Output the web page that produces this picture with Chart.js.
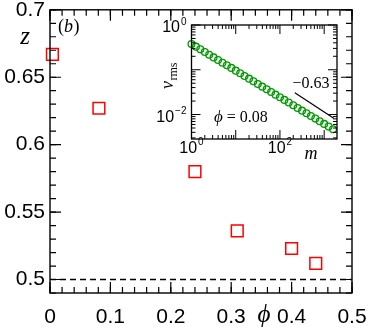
<!DOCTYPE html>
<html><head><meta charset="utf-8">
<script src="https://cdn.jsdelivr.net/npm/chart.js@4.4.1/dist/chart.umd.min.js"></script>
<style>
html,body{margin:0;padding:0;background:#fff;}
#wrap{position:relative;width:371px;height:330px;overflow:hidden;}
canvas{position:absolute;left:0;top:0;}
</style>
</head><body>
<div id="wrap"><canvas id="main" width="371" height="330"></canvas><canvas id="inset" width="371" height="330"></canvas></div>
<script>
// ---- main panel data ----
const phiValues = [0.004, 0.081, 0.240, 0.310, 0.400, 0.440];
const zValues   = [0.667, 0.627, 0.580, 0.536, 0.523, 0.512];
const zReferenceLevel = 0.5;
const xTickValues = [0, 0.1, 0.2, 0.3, 0.4, 0.5];
const xTickLabels = ['0', '0.1', '0.2', '0.3', '0.4', '0.5'];
const yTickValues = [0.5, 0.55, 0.6, 0.65, 0.7];
const yTickLabels = ['0.5', '0.55', '0.6', '0.65', '0.7'];

// ---- inset data (phi = 0.08) ----
const mValues = [1, 1.26, 1.58, 2.0, 2.51, 3.16, 3.98, 5.01, 6.31, 7.94,
  10, 12.6, 15.8, 20.0, 25.1, 31.6, 39.8, 50.1, 63.1, 79.4,
  100, 126, 158, 200, 251, 316, 398, 501, 631, 794, 1000, 1259, 1585];
const vrmsValues = [0.376, 0.328, 0.286, 0.249, 0.217, 0.189, 0.165, 0.144, 0.126, 0.110,
  0.0955, 0.0833, 0.0726, 0.0633, 0.0552, 0.0481, 0.0420, 0.0366, 0.0319, 0.0278,
  0.0243, 0.0212, 0.0185, 0.0161, 0.0140, 0.0122, 0.0107, 0.00930, 0.00811, 0.00707,
  0.00617, 0.00538, 0.00469];
const slopeLineM = [217, 1644];
const slopeLineV = [0.0307, 0.00826];
const slopeLabel = '\u22120.63';
const insetXTickValues = [1, 100];
const insetXTickExponents = ['0', '2'];
const insetYTickValues = [1, 0.01];
const insetYTickExponents = ['0', '\u22122'];

const SANS = '"Liberation Sans", Arial, sans-serif';
const SERIF = '"Liberation Serif", "DejaVu Serif", serif';

function fixAxis(size, horizontal) {
  return function (s) {
    if (horizontal) s.height = size; else s.width = size;
    s.paddingLeft = 0; s.paddingRight = 0; s.paddingTop = 0; s.paddingBottom = 0;
  };
}

// ---------- main chart ----------
const mainFrame = {
  id: 'mainFrame',
  afterDraw(chart) {
    const ctx = chart.ctx, a = chart.chartArea;
    const xs = chart.scales.x, ys = chart.scales.y;
    ctx.save();
    ctx.strokeStyle = '#000';
    ctx.lineWidth = 1.4;
    ctx.strokeRect(a.left, a.top, a.right - a.left, a.bottom - a.top);
    ctx.lineWidth = 1.2;
    const draw = (xv, yv, len) => {
      ctx.beginPath();
      xv.forEach(v => { const p = xs.getPixelForValue(v);
        ctx.moveTo(p, a.bottom); ctx.lineTo(p, a.bottom - len);
        ctx.moveTo(p, a.top); ctx.lineTo(p, a.top + len); });
      yv.forEach(v => { const p = ys.getPixelForValue(v);
        ctx.moveTo(a.left, p); ctx.lineTo(a.left + len, p);
        ctx.moveTo(a.right, p); ctx.lineTo(a.right - len, p); });
      ctx.stroke();
    };
    const xMinor = [], yMinor = [];
    for (let i = 0; i <= 25; i++) xMinor.push(i * 0.02);
    for (let i = 49; i <= 70; i++) yMinor.push(i / 100);
    draw(xMinor, yMinor, 6);
    draw(xTickValues, yTickValues, 11);
    // texts
    ctx.fillStyle = '#000';
    ctx.textBaseline = 'middle';
    ctx.textAlign = 'center';
    ctx.font = 'italic 25px ' + SERIF;
    ctx.fillText('z', 25, 37);
    ctx.font = 'italic 25px ' + SERIF;
    ctx.fillText('\u03D5', 264, 315);
    ctx.textAlign = 'left';
    ctx.textBaseline = 'alphabetic';
    ctx.font = '18px ' + SERIF;
    ctx.fillText('(', 58, 32);
    let w = ctx.measureText('(').width;
    ctx.font = 'italic 18px ' + SERIF;
    ctx.fillText('b', 58 + w, 32);
    let w2 = ctx.measureText('b').width;
    ctx.font = '18px ' + SERIF;
    ctx.fillText(')', 58 + w + w2 + 0.5, 32);
    ctx.restore();
  }
};

new Chart(document.getElementById('main'), {
  type: 'scatter',
  data: {
    datasets: [
      {
        data: phiValues.map((p, i) => ({ x: p, y: zValues[i] })),
        pointStyle: 'rect', pointRadius: 8.3, pointHoverRadius: 8.3,
        borderColor: '#ff0000', backgroundColor: 'rgba(0,0,0,0)', borderWidth: 1.5,
        clip: false
      },
      {
        data: [{ x: xTickValues[0], y: zReferenceLevel }, { x: xTickValues[xTickValues.length - 1], y: zReferenceLevel }],
        showLine: true, pointRadius: 0, borderColor: '#000', borderWidth: 1.3,
        borderDash: [6, 4]
      }
    ]
  },
  options: {
    responsive: false, animation: false, devicePixelRatio: 1,
    layout: { padding: { top: 9, right: 19, left: 0, bottom: 0 } },
    plugins: { legend: { display: false }, tooltip: { enabled: false } },
    scales: {
      x: {
        type: 'linear', min: 0, max: 0.5,
        afterBuildTicks: s => { s.ticks = xTickValues.map(v => ({ value: v })); },
        afterFit: fixAxis(37, true),
        ticks: { callback: (v, i) => xTickLabels[i], font: { family: SANS, size: 21 }, color: '#000', padding: 12, maxRotation: 0, autoSkip: false },
        grid: { display: false, drawTicks: false }, border: { display: false }
      },
      y: {
        type: 'linear', min: 0.49, max: 0.7,
        afterBuildTicks: s => { s.ticks = yTickValues.map(v => ({ value: v })); },
        afterFit: fixAxis(50, false),
        ticks: { callback: (v, i) => yTickLabels[i], font: { family: SANS, size: 21 }, color: '#000', padding: 5, autoSkip: false },
        grid: { display: false, drawTicks: false }, border: { display: false }
      }
    }
  },
  plugins: [mainFrame]
});

// ---------- inset chart ----------
const insetFrame = {
  id: 'insetFrame',
  beforeDatasetsDraw(chart) {
    const ctx = chart.ctx, a = chart.chartArea;
    ctx.save(); ctx.fillStyle = '#fff';
    ctx.fillRect(a.left, a.top, a.right - a.left, a.bottom - a.top);
    ctx.restore();
  },
  afterDraw(chart) {
    const ctx = chart.ctx, a = chart.chartArea;
    const xs = chart.scales.x, ys = chart.scales.y;
    ctx.save();
    ctx.strokeStyle = '#000';
    ctx.lineWidth = 1.3;
    ctx.strokeRect(a.left, a.top, a.right - a.left, a.bottom - a.top);
    ctx.lineWidth = 1;
    const inRange = (v, s) => v >= s.min * 0.9999 && v <= s.max * 1.0001;
    const xMaj = [], xMin = [], yMaj = [], yMin = [];
    for (let k = -4; k <= 4; k++) {
      const d = Math.pow(10, k);
      if (inRange(d, xs)) xMaj.push(d);
      if (inRange(d, ys)) yMaj.push(d);
      for (let j = 2; j <= 9; j++) {
        if (inRange(j * d, xs)) xMin.push(j * d);
        if (inRange(j * d, ys)) yMin.push(j * d);
      }
    }
    const draw = (xv, yv, len) => {
      ctx.beginPath();
      xv.forEach(v => { const p = xs.getPixelForValue(v);
        ctx.moveTo(p, a.bottom); ctx.lineTo(p, a.bottom - len);
        ctx.moveTo(p, a.top); ctx.lineTo(p, a.top + len); });
      yv.forEach(v => { const p = ys.getPixelForValue(v);
        ctx.moveTo(a.left, p); ctx.lineTo(a.left + len, p);
        ctx.moveTo(a.right, p); ctx.lineTo(a.right - len, p); });
      ctx.stroke();
    };
    draw(xMin, yMin, 4);
    draw(xMaj, yMaj, 9);

    ctx.fillStyle = '#000';
    const baseFont = '16px ' + SANS, expFont = '10px ' + SANS;
    // x tick labels
    insetXTickValues.forEach((v, i) => {
      const p = xs.getPixelForValue(v);
      ctx.font = baseFont; const bw = ctx.measureText('10').width;
      ctx.font = expFont; const ew = ctx.measureText(insetXTickExponents[i]).width;
      const x0 = p - (bw + ew + 1) / 2;
      ctx.textAlign = 'left'; ctx.textBaseline = 'middle';
      ctx.font = baseFont; ctx.fillText('10', x0, a.bottom + 10);
      ctx.font = expFont; ctx.fillText(insetXTickExponents[i], x0 + bw + 1, a.bottom + 3);
    });
    // y tick labels
    insetYTickValues.forEach((v, i) => {
      const p = ys.getPixelForValue(v);
      ctx.font = baseFont; const bw = ctx.measureText('10').width;
      ctx.font = expFont; const ew = ctx.measureText(insetYTickExponents[i]).width;
      const right = a.left - 5;
      ctx.textAlign = 'left'; ctx.textBaseline = 'middle';
      ctx.font = expFont; ctx.fillText(insetYTickExponents[i], right - ew, p - 3);
      ctx.font = baseFont; ctx.fillText('10', right - ew - bw - 1, p + 3);
    });
    // axis titles
    ctx.textAlign = 'center'; ctx.textBaseline = 'middle';
    ctx.font = 'italic 18px ' + SERIF;
    ctx.fillText('m', 311, 154);
    // v_rms rotated
    ctx.save();
    ctx.translate(171, 76);
    ctx.rotate(-Math.PI / 2);
    ctx.font = 'italic 18px ' + SERIF;
    const vw = ctx.measureText('v').width;
    ctx.font = '12px ' + SERIF;
    const rw = ctx.measureText('rms').width;
    const x0 = -(vw + rw) / 2;
    ctx.textAlign = 'left'; ctx.textBaseline = 'alphabetic';
    ctx.font = 'italic 18px ' + SERIF;
    ctx.fillText('v', x0, 2);
    ctx.font = '12px ' + SERIF;
    ctx.fillText('rms', x0 + vw + 0.5, 6);
    ctx.restore();
    // phi label
    ctx.textAlign = 'left'; ctx.textBaseline = 'alphabetic';
    ctx.font = 'italic 17px ' + SERIF;
    ctx.fillText('\u03D5', 214, 122);
    const pw = ctx.measureText('\u03D5').width;
    ctx.font = '16px ' + SERIF;
    ctx.fillText(' = 0.08', 214 + pw, 122);
    // slope label
    ctx.textAlign = 'center';
    ctx.fillText(slopeLabel, 311, 88);
    ctx.restore();
  }
};

new Chart(document.getElementById('inset'), {
  type: 'scatter',
  data: {
    datasets: [
      {
        data: mValues.map((m, i) => ({ x: m, y: vrmsValues[i] })),
        pointStyle: 'circle', pointRadius: 3.4, pointHoverRadius: 3.4,
        borderColor: '#009a00', backgroundColor: 'rgba(0,0,0,0)', borderWidth: 1.3,
        clip: false
      },
      {
        data: slopeLineM.map((m, i) => ({ x: m, y: slopeLineV[i] })),
        showLine: true, pointRadius: 0, borderColor: '#000', borderWidth: 1.2
      }
    ]
  },
  options: {
    responsive: false, animation: false, devicePixelRatio: 1,
    layout: { padding: { top: 25, right: 34, left: 0, bottom: 0 } },
    plugins: { legend: { display: false }, tooltip: { enabled: false } },
    scales: {
      x: {
        type: 'logarithmic', min: 1, max: 1950,
        afterFit: fixAxis(191, true),
        ticks: { display: false }, grid: { display: false, drawTicks: false }, border: { display: false }
      },
      y: {
        type: 'logarithmic', min: 0.00284, max: 1,
        afterFit: fixAxis(191.5, false),
        ticks: { display: false }, grid: { display: false, drawTicks: false }, border: { display: false }
      }
    }
  },
  plugins: [insetFrame]
});
</script>
</body></html>
